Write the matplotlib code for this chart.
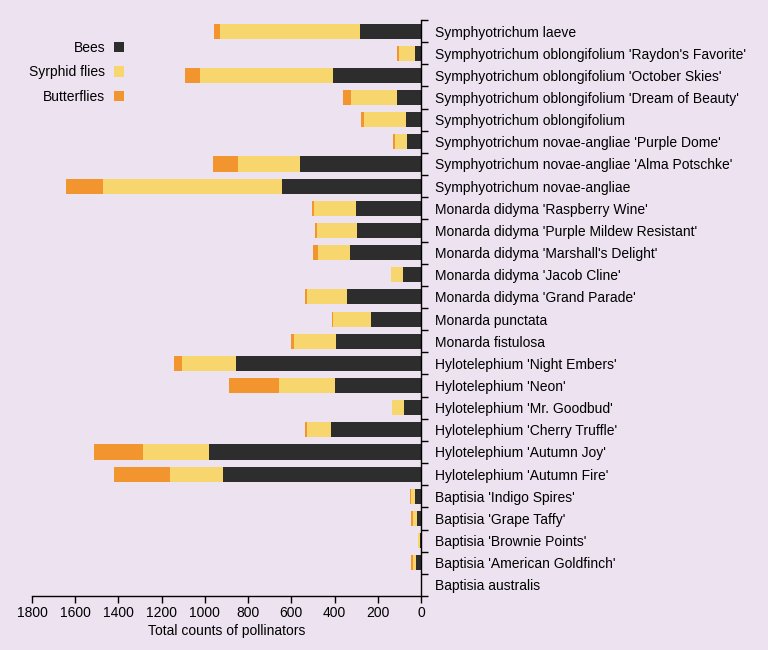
import numpy as np
import matplotlib.pyplot as plt
from matplotlib.ticker import FixedLocator

plt.rcParams['font.family'] = ['Liberation Sans', 'DejaVu Sans']

plants = [
    "Symphyotrichum laeve",
    "Symphyotrichum oblongifolium 'Raydon's Favorite'",
    "Symphyotrichum oblongifolium 'October Skies'",
    "Symphyotrichum oblongifolium 'Dream of Beauty'",
    "Symphyotrichum oblongifolium",
    "Symphyotrichum novae-angliae 'Purple Dome'",
    "Symphyotrichum novae-angliae 'Alma Potschke'",
    "Symphyotrichum novae-angliae",
    "Monarda didyma 'Raspberry Wine'",
    "Monarda didyma 'Purple Mildew Resistant'",
    "Monarda didyma 'Marshall's Delight'",
    "Monarda didyma 'Jacob Cline'",
    "Monarda didyma 'Grand Parade'",
    "Monarda punctata",
    "Monarda fistulosa",
    "Hylotelephium 'Night Embers'",
    "Hylotelephium 'Neon'",
    "Hylotelephium 'Mr. Goodbud'",
    "Hylotelephium 'Cherry Truffle'",
    "Hylotelephium 'Autumn Joy'",
    "Hylotelephium 'Autumn Fire'",
    "Baptisia 'Indigo Spires'",
    "Baptisia 'Grape Taffy'",
    "Baptisia 'Brownie Points'",
    "Baptisia 'American Goldfinch'",
    "Baptisia australis",
]
bees = [282, 29, 409, 113, 70, 65, 562, 644, 300, 294, 328, 82, 343,
        231, 394, 854, 400, 77, 417, 981, 915, 28, 18, 6, 22, 0]
syrphid = [650, 75, 614, 210, 192, 56, 285, 826, 195, 189, 149, 58, 186,
           178, 194, 254, 258, 55, 112, 305, 248, 17, 17, 9, 17, 0]
butterflies = [25, 7, 70, 36, 16, 9, 115, 174, 11, 6, 22, 0, 9,
               3, 14, 37, 231, 0, 8, 226, 257, 6, 11, 0, 5, 0]
xticks = [0, 200, 400, 600, 800, 1000, 1200, 1400, 1600, 1800]

bg = '#ede2f0'
c_bee, c_syr, c_but = '#2d2d2d', '#f8d66e', '#f2952f'

fig = plt.figure(figsize=(7.68, 6.5), dpi=100, facecolor=bg)
ax = fig.add_axes([32/768, 1-596/650, (421-32)/768, (596-20)/650])
ax.set_facecolor(bg)

y = np.arange(len(plants))
bees = np.array(bees)
syrphid = np.array(syrphid)
butterflies = np.array(butterflies)
h = 0.68
ax.barh(y, bees, height=h, color=c_bee, label='Bees')
ax.barh(y, syrphid, left=bees, height=h, color=c_syr, label='Syrphid flies')
ax.barh(y, butterflies, left=bees+syrphid, height=h, color=c_but, label='Butterflies')

ax.set_xlim(1800, 0)
ax.set_ylim(len(plants)-0.5, -0.5)
ax.set_xticks(xticks)
ax.tick_params(axis='x', labelsize=10, length=5, width=1, direction='out', pad=2)

ax.yaxis.tick_right()
ax.set_yticks(y)
ax.set_yticklabels(plants, fontsize=10)
ax.yaxis.set_minor_locator(FixedLocator(np.arange(-0.5, len(plants), 1)))
ax.tick_params(axis='y', which='major', length=0, pad=10)
ax.tick_params(axis='y', which='minor', length=5, width=1, direction='out')

for s in ['top', 'left']:
    ax.spines[s].set_visible(False)
ax.spines['right'].set_linewidth(1)
ax.spines['bottom'].set_linewidth(1)

ax.set_xlabel('Total counts of pollinators', fontsize=10, labelpad=3)

fig.legend(loc='upper right', bbox_to_anchor=(124/768, 1-41/650),
           frameon=False, markerfirst=False, fontsize=10,
           handlelength=0.75, handleheight=0.75, handletextpad=0.6,
           labelspacing=0.75, borderpad=0, borderaxespad=0)

fig.savefig('out.png', dpi=100, facecolor=bg)
